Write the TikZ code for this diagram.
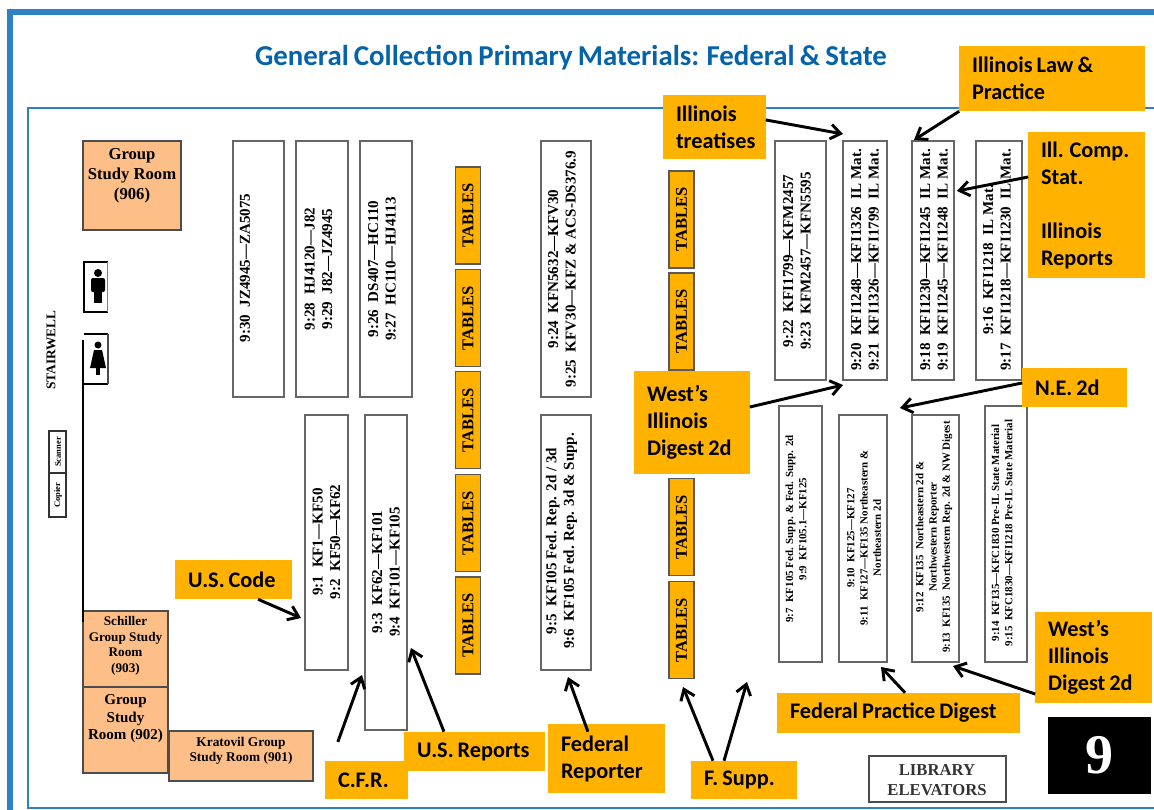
\documentclass[tikz,border=0pt]{standalone}
\usepackage{fontspec}
\setmainfont{Liberation Serif}
\newfontfamily\tagfamily[WordSpace=0.8]{Carlito}
\usetikzlibrary{arrows.meta}
\definecolor{framecol}{RGB}{46,130,196}
\definecolor{titlecol}{RGB}{5,99,170}
\definecolor{tagcol}{RGB}{255,178,0}
\definecolor{roomcol}{RGB}{253,190,135}
\tikzset{
	shelf/.style={draw=black!60, line width=1.2pt, fill=white},
	shelftext/.style={rotate=90, align=center, inner sep=0pt, font=\fontsize{11.3}{13}\selectfont\bfseries},
	smalltext/.style={shelftext, font=\fontsize{8.2}{10}\selectfont\bfseries},
	roomtext/.style={align=center, inner sep=0pt},
	room/.style={draw=black!70, line width=1.2pt, fill=roomcol},
	tablebox/.style={rotate=90, draw=black!65, line width=1.1pt, fill=tagcol, inner sep=0pt, minimum height=25*.75pt, font=\fontsize{12.4}{14}\selectfont\bfseries},
	tag/.style={fill=tagcol, align=flush left, inner xsep=9.4pt, inner ysep=0pt, font=\tagfamily\fontsize{16.7}{20.25}\selectfont\bfseries},
	pointer/.style={line width=2.2pt, -{Straight Barb[length=7.5pt,width=11pt,line width=2.2pt]}},
}
\begin{document}
\begin{tikzpicture}[x=0.75pt,y=-0.75pt]
	\useasboundingbox (0,0) rectangle (1154,810);
	% frames
	\draw [framecol, line width=3.8pt] (1154,12) -- (10,12) -- (10,810);
	\draw [framecol, line width=2pt] (1154,108) -- (28,108) -- (28,808) -- (1154,808);
	\node [text=titlecol, inner sep=0pt, font=\tagfamily\fontsize{21.6}{24}\selectfont\bfseries] (title) at (571,58) {General Collection Primary Materials: Federal \& State};

	% rooms
	\draw [room] (83,141) rectangle (181,230);
	\node [roomtext, font=\fontsize{12.5}{15}\selectfont\bfseries] (room906) at (132,176) {Group\\Study Room\\(906)};
	\draw [room] (83,611) rectangle (168,687);
	\node [roomtext, font=\fontsize{9.9}{11.6}\selectfont\bfseries] (room903) at (125.5,646) {Schiller\\Group Study\\Room\\(903)};
	\draw [room] (83,687) rectangle (168,773);
	\node [roomtext, font=\fontsize{11.3}{13.2}\selectfont\bfseries] (room902) at (125.5,719) {Group\\Study\\Room (902)};
	\draw [room] (169,731) rectangle (313,781);
	\node [roomtext, font=\fontsize{10}{11.4}\selectfont\bfseries] (room901) at (241,751) {Kratovil Group\\Study Room (901)};

	% stairwell, restrooms, copier
	\node [rotate=90, inner sep=0pt, font=\fontsize{10}{12}\selectfont\bfseries] (stair) at (51,350) {STAIRWELL};
	\draw [black!80, line width=1pt] (49,431) rectangle (66,517);
	\draw [black!80, line width=1pt] (49,473) -- (66,473);
	\node [rotate=90, inner sep=0pt, font=\fontsize{6.4}{8}\selectfont\bfseries] (scanner) at (58,452) {Scanner};
	\node [rotate=90, inner sep=0pt, font=\fontsize{6.4}{8}\selectfont\bfseries] (copier) at (58,495) {Copier};
	\draw [line width=1.5pt] (108,262) -- (84,262) -- (84,312) -- (108,312);
	\draw [black!50, line width=.7pt] (107,262) -- (107,312);
	\fill (98,273) circle (4);
	\fill [rounded corners=1.5pt] (91,278) rectangle (105,292);
	\fill (94,285) rectangle (102,303);
	\draw [line width=1.5pt] (84,334) -- (108,334);
	\draw [line width=1.5pt] (83,384) -- (108,384);
	\draw [black!70, line width=1pt] (108,334) -- (108,384);
	\fill (98,345) circle (3.5);
	\fill (94,350) -- (102,350) -- (106,368) -- (90,368) -- cycle;
	\fill (96,366) rectangle (100,375);
	\draw [line width=1.7pt] (83,340) -- (83,622);

	% shelves, left part
	\draw [shelf] (233,141) rectangle (284,397);
	\node [shelftext] (s930) at (245,268) {9:30\ \ JZ4945—ZA5075};
	\draw [shelf] (296,141) rectangle (348,397);
	\node [shelftext] (s928) at (318.5,269) {9:28\ \ HJ4120—J82\\9:29\ \ J82—JZ4945};
	\draw [shelf] (360,141) rectangle (412,397);
	\node [shelftext] (s926) at (382,269) {9:26\ \ DS407—HC110\\9:27\ \ HC110—HJ4113};
	\draw [shelf] (305,415) rectangle (348,670);
	\node [shelftext] (s901) at (326.5,542) {9:1\ \ KF1—KF50\\9:2\ \ KF50—KF62};
	\draw [shelf] (365,415) rectangle (407,730);
	\node [shelftext] (s903) at (386,572) {9:3\ \ KF62—KF101\\9:4\ \ KF101—KF105};
	\draw [shelf] (541,141) rectangle (591,397);
	\node [shelftext] (s924) at (562,269) {9:24\ \ KFN5632—KFV30\\9:25\ \ KFV30—KFZ \& ACS-DS376.9};
	\draw [shelf] (541,415) rectangle (591,670);
	\node [shelftext] (s905) at (561.5,541) {9:5\ \ KF105 Fed. Rep. 2d / 3d\\9:6\ \ KF105 Fed. Rep. 3d \& Supp.};

	% tables
	\foreach \i/\y in {1/215.5,2/318,3/420,4/523,5/625.5}
		\node [tablebox, minimum width=97*.75pt] (taba\i) at (468,\y) {TABLES};
	\foreach \i/\y in {1/219.5,2/321.5,3/527,4/630}
		\node [tablebox, minimum width=97*.75pt] (tabb\i) at (681.5,\y) {TABLES};

	% shelves, right part
	\draw [shelf] (775,141) rectangle (826,380);
	\node [shelftext] (s922) at (797,261) {9:22\ \ KFI1799—KFM2457\\9:23\ \ KFM2457—KFN5595};
	\draw [shelf] (843,141) rectangle (887,380);
	\node [shelftext] (s920) at (865,260) {9:20\ \ KFI1248—KFI1326\ \ IL Mat.\\9:21\ \ KFI1326—KFI1799\ \ IL Mat.};
	\draw [shelf] (912,141) rectangle (954,380);
	\node [shelftext] (s918) at (934,260) {9:18\ \ KFI1230—KFI1245\ \ IL Mat.\\9:19\ \ KFI1245—KFI1248\ \ IL Mat.};
	\draw [shelf] (976,141) rectangle (1022,380);
	\node [shelftext] (s916) at (997,260) {9:16\ \ KFI1218\ \ IL Mat.\\9:17\ \ KFI1218—KFI1230\ \ IL Mat.};
	\draw [shelf] (779,406) rectangle (822,662);
	\node [smalltext] (s907) at (796,529) {9:7\ \ KF105 Fed. Supp. \& Fed. Supp. 2d\\9:9\ \ KF105.1—KF125};
	\draw [shelf] (839,415) rectangle (887,662);
	\node [smalltext] (s910) at (864,538) {9:10\ \ KF125—KF127\\9:11\ \ KF127—KF135 Northeastern \&\\Northeastern 2d};
	\draw [shelf] (912,415) rectangle (959,662);
	\node [smalltext] (s912) at (934,537) {9:12\ \ KF135\ \ Northeastern 2d \&\\Northwestern Reporter\\9:13\ \ KF135\ \ Northwestern Rep. 2d \& NW Digest};
	\draw [shelf] (985,406) rectangle (1027,662);
	\node [smalltext] (s914) at (1002,533) {9:14\ \ KF135—KFC1830 Pre-IL State Material\\9:15\ \ KFC1830—KFI1218 Pre-IL State Material};

	% elevators and floor number
	\draw [black!70, line width=1.1pt] (869,756) rectangle (1006,802);
	\node [roomtext, font=\fontsize{12.5}{14.5}\selectfont\bfseries, text=black!80] (elev) at (937,780) {LIBRARY\\ELEVATORS};
	\node [fill=black, text=white, inner sep=0pt, minimum width=103*.75pt, minimum height=77*.75pt, font=\fontsize{42}{42}\selectfont\bfseries] (floor) at (1099.5,755.5) {9};

	% orange labels
	\node [tag, text width=77*.75pt, minimum height=64*.75pt] (treat) at (714.5,127) {Illinois\\treatises};
	\node [tag, text width=160*.75pt, minimum height=65*.75pt] (law) at (1052,78.5) {Illinois Law \&\\Practice};
	\node [tag, text width=91*.75pt, minimum height=146*.75pt] (comp) at (1086.5,205) {Ill. Comp.\\Stat.\\[20.25pt]Illinois\\Reports};
	\node [tag, text width=90*.75pt, minimum height=103*.75pt] (digest) at (692,422.5) {West’s\\Illinois\\Digest 2d};
	\node [tag, text width=79*.75pt, minimum height=39*.75pt] (ne) at (1074.5,387.5) {N.E. 2d};
	\node [tag, text width=91*.75pt, minimum height=91*.75pt] (digestb) at (1093.5,657.5) {West’s\\Illinois\\Digest 2d};
	\node [tag, text width=217*.75pt, minimum height=40*.75pt] (fpd) at (898.5,713) {Federal Practice Digest};
	\node [tag, text width=91*.75pt, minimum height=39*.75pt] (usc) at (233.5,579.5) {U.S. Code};
	\node [tag, text width=115*.75pt, minimum height=39*.75pt] (usr) at (474.5,751.5) {U.S. Reports};
	\node [tag, text width=57*.75pt, minimum height=38*.75pt] (cfr) at (366.5,780) {C.F.R.};
	\node [tag, text width=91*.75pt, minimum height=69*.75pt] (fedrep) at (606.5,758.5) {Federal\\Reporter};
	\node [tag, text width=80*.75pt, minimum height=38*.75pt] (fsupp) at (744,780) {F. Supp.};

	% arrow tips
	\coordinate (tiptreat) at (843,134);
	\coordinate (tiplaw) at (914,140);
	\coordinate (tipcomp) at (957,191);
	\coordinate (tipdigest) at (843,385);
	\coordinate (tipne) at (900,408);
	\coordinate (tipdigestb) at (953,666);
	\coordinate (tipfpd) at (881,667);
	\coordinate (tipusc) at (301,618);
	\coordinate (tipcfr) at (362,675);
	\coordinate (tipusr) at (411,648);
	\coordinate (tipfedrep) at (568,677);
	\coordinate (tipfsa) at (683,687);
	\coordinate (tipfsb) at (747,682);

	\draw [pointer] ([yshift=5.3pt]treat.east) -- (tiptreat);
	\draw [pointer] (law.south west) -- (tiplaw);
	\draw [pointer] ([yshift=21pt]comp.west) -- (tipcomp);
	\draw [pointer] ([yshift=11.6pt]digest.east) -- (tipdigest);
	\draw [pointer] ([yshift=3.4pt]ne.west) -- (tipne);
	\draw [pointer] ([yshift=-27.4pt]digestb.west) -- (tipdigestb);
	\draw [pointer] ([xshift=4.9pt]fpd.north) -- (tipfpd);
	\draw [pointer] ([xshift=18.4pt]usc.south) -- (tipusc);
	\draw [pointer, shorten <=15pt] ([xshift=-26.6pt]cfr.north) -- (tipcfr);
	\draw [pointer] ([xshift=-22.9pt]usr.north) -- (tipusr);
	\draw [pointer] ([xshift=-13.9pt,yshift=-6pt]fedrep.north) -- (tipfedrep);
	\draw [pointer] ([xshift=-23.25pt]fsupp.north) -- (tipfsa);
	\draw [pointer] ([xshift=-15pt]fsupp.north) -- (tipfsb);
\end{tikzpicture}
\end{document}
